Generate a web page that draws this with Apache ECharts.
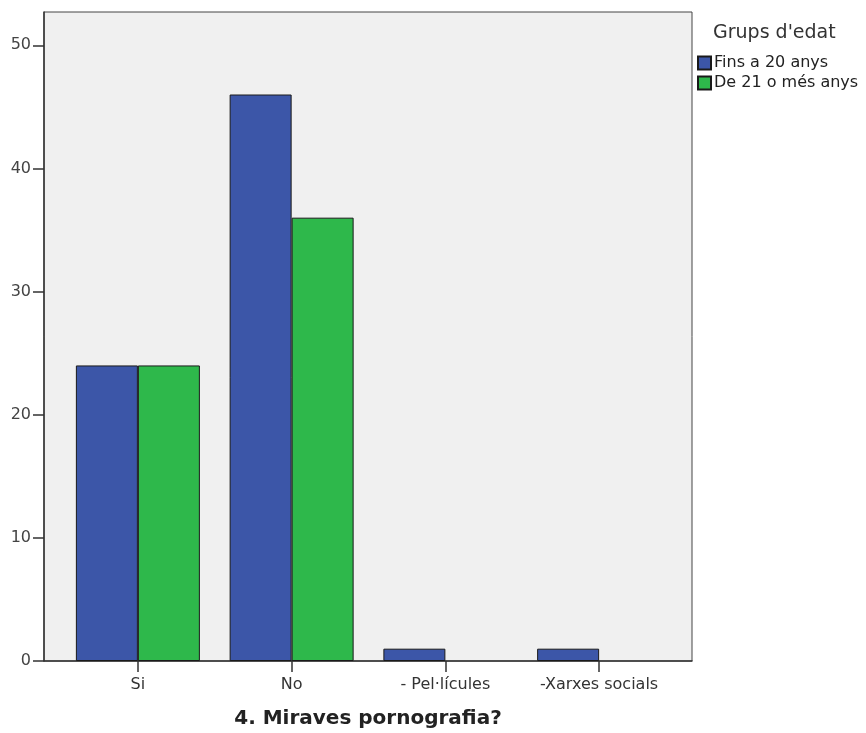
<!DOCTYPE html>
<html>
<head>
<meta charset="utf-8">
<script src="https://cdn.jsdelivr.net/npm/echarts@6/dist/echarts.min.js"></script>
<style>
html,body{margin:0;padding:0;background:#fff;}
#chart{width:866px;height:733px;}
</style>
</head>
<body>
<div id="chart"></div>
<script>
var categories = ['Si', 'No', '- Pel·lícules', '-Xarxes socials'];
var fins20 = [24, 46, 1, 1];
var de21 = [24, 36, 0, 0];
var seriesNames = ['Fins a 20 anys', 'De 21 o més anys'];
var legendTitle = "Grups d'edat";
var xTitle = '4. Miraves pornografia?';
var yTicks = [0, 10, 20, 30, 40, 50];

var FONT = '"DejaVu Sans", sans-serif';
var chart = echarts.init(document.getElementById('chart'));
function clean(arr){ return arr.map(function(v){ return v === 0 ? null : v; }); }

var option = {
  animation: false,
  backgroundColor: '#ffffff',
  title: [
    { text: legendTitle, left: 713, top: 24, padding: 0, textStyle: { fontFamily: FONT, fontSize: 19, fontWeight: 'normal', color: '#333' } },
    { text: xTitle, left: 368, top: 709, padding: 0, textAlign: 'center', textStyle: { fontFamily: FONT, fontSize: 20, fontWeight: 'bold', color: '#222' } }
  ],
  legend: {
    orient: 'vertical', left: 697, top: 55, padding: 0, itemWidth: 13, itemHeight: 13, itemGap: 4,
    icon: 'rect',
    textStyle: { fontFamily: FONT, fontSize: 16, color: '#222', padding: [0,0,0,-2] },
    data: seriesNames
  },
  grid: [
    { left: 44, top: 12, width: 648, height: 649, show: true, backgroundColor: '#f0f0f0', borderColor: '#444', borderWidth: 1 },
    { left: 61, top: 12, width: 615, height: 649 }
  ],
  xAxis: [
    { gridIndex: 0, type: 'value', min: 0, max: 1, show: true, position: 'bottom',
      axisLine: { show: true, lineStyle: { color: '#333', width: 1.5 } },
      axisTick: { show: false }, axisLabel: { show: false }, splitLine: { show: false } },
    { gridIndex: 1, type: 'category', data: categories,
      axisLine: { show: false },
      axisTick: { show: true, alignWithLabel: true, length: 11, lineStyle: { color: '#333', width: 1.5 } },
      axisLabel: { fontFamily: FONT, fontSize: 16, color: '#333', margin: 16 } }
  ],
  yAxis: [
    { gridIndex: 0, type: 'value', min: yTicks[0], max: 52.7, interval: 10,
      axisLine: { show: true, lineStyle: { color: '#333', width: 1.5 } },
      axisTick: { show: true, length: 11, lineStyle: { color: '#333', width: 1.5 } },
      axisLabel: { fontFamily: FONT, fontSize: 16, color: '#444', margin: 13, showMaxLabel: false, padding: [4,0,0,0],
        formatter: function(v){ return yTicks.indexOf(v) >= 0 ? String(v) : ''; } },
      splitLine: { show: false } },
    { gridIndex: 1, type: 'value', min: yTicks[0], max: 52.7, show: false, splitLine: { show: false } }
  ],
  series: [
    { name: seriesNames[0], type: 'bar', xAxisIndex: 1, yAxisIndex: 1, data: clean(fins20),
      barWidth: 62, barGap: '0%',
      itemStyle: { color: '#3c56a8', borderColor: '#1a1a1a', borderWidth: 1 } },
    { name: seriesNames[1], type: 'bar', xAxisIndex: 1, yAxisIndex: 1, data: clean(de21),
      barWidth: 62, barGap: '0%',
      itemStyle: { color: '#2eb84b', borderColor: '#1a1a1a', borderWidth: 1 } }
  ]
};
chart.setOption(option);
</script>
</body>
</html>
